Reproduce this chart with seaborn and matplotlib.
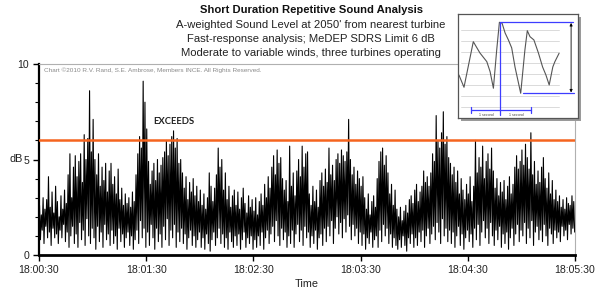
import numpy as np
import pandas as pd
import matplotlib
matplotlib.use("Agg")
import matplotlib.pyplot as plt
import seaborn as sns

# ---------------- data ----------------
title = "Short Duration Repetitive Sound Analysis"
subtitles = ["A-weighted Sound Level at 2050' from nearest turbine",
             "Fast-response analysis; MeDEP SDRS Limit 6 dB",
             "Moderate to variable winds, three turbines operating"]
copyright_txt = "Chart \u00a92010 R.V. Rand, S.E. Ambrose, Members INCE. All Rights Reserved."
tick_seconds = [0, 60, 120, 180, 240, 300]
tick_labels = ["18:00:30", "18:01:30", "18:02:30", "18:03:30", "18:04:30", "18:05:30"]
limit_db = 6

# one peak and one trough per second (dB), 300 seconds
peaks = [
    2.6, 2.1, 3.0, 2.4, 2.9, 4.1, 2.5, 3.3, 2.2, 3.6,
    2.8, 2.0, 3.1, 2.4, 3.4, 2.7, 4.2, 5.3, 3.0, 4.6,
    5.2, 4.1, 4.9, 5.3, 3.8, 6.3, 5.0, 6.1, 8.6, 5.4,
    7.1, 5.0, 4.2, 5.3, 3.6, 4.6, 3.9, 4.8, 3.3, 4.4,
    4.8, 3.7, 4.1, 3.2, 4.5, 2.9, 3.5, 2.6, 3.2, 2.7,
    3.0, 2.5, 3.3, 2.8, 4.2, 5.3, 6.2, 5.6, 9.1, 8.0,
    6.6, 4.9, 3.7, 4.4, 4.8, 3.9, 5.0, 4.3, 4.7, 5.1,
    5.4, 6.0, 5.2, 5.8, 6.2, 6.5, 5.6, 6.1, 4.8, 5.0,
    4.3, 3.5, 4.1, 2.9, 3.8, 3.3, 4.0, 3.1, 3.6, 2.8,
    3.4, 2.6, 3.2, 2.4, 3.0, 4.3, 3.6, 2.8, 3.5, 4.2,
    5.6, 4.6, 5.0, 3.4, 4.3, 2.9, 3.6, 2.5, 3.1, 3.4,
    2.6, 3.3, 2.4, 3.0, 3.5, 2.7, 2.2, 3.1, 2.5, 2.9,
    2.3, 3.0, 2.1, 2.8, 3.2, 2.6, 3.7, 3.0, 4.1, 3.5,
    4.6, 5.2, 4.2, 5.5, 4.8, 5.1, 4.0, 3.4, 3.9, 2.8,
    5.7, 3.6, 4.3, 3.1, 4.4, 5.0, 4.1, 5.7, 4.6, 5.3,
    5.4, 3.2, 2.6, 3.6, 2.8, 3.4, 2.5, 3.9, 4.3, 3.6,
    4.5, 3.8, 5.6, 4.2, 4.7, 3.9, 5.0, 5.3, 4.8, 5.5,
    5.2, 4.9, 5.4, 7.1, 5.0, 4.2, 4.6, 3.7, 4.4, 4.0,
    3.6, 4.1, 3.0, 2.4, 3.2, 2.1, 2.8, 3.1, 2.5, 4.0,
    4.9, 5.4, 5.6, 4.7, 5.2, 4.3, 3.2, 3.7, 2.6, 3.4,
    2.4, 2.0, 2.5, 1.8, 2.3, 2.6, 2.2, 2.9, 3.1, 2.7,
    3.4, 3.7, 2.8, 3.3, 3.6, 4.4, 3.8, 4.1, 3.6, 4.3,
    5.3, 4.9, 7.3, 6.0, 5.6, 6.4, 7.5, 5.8, 6.2, 5.1,
    4.8, 4.2, 4.6, 3.8, 4.4, 3.2, 4.0, 3.4, 2.9, 3.7,
    3.2, 4.1, 2.8, 3.6, 6.0, 4.3, 5.1, 4.6, 5.7, 4.0,
    4.9, 5.3, 4.5, 5.6, 4.4, 3.5, 4.0, 3.1, 3.8, 3.3,
    3.9, 2.9, 3.6, 4.1, 3.2, 3.7, 4.6, 5.2, 4.5, 4.9,
    5.5, 4.7, 5.8, 5.1, 4.5, 6.4, 4.2, 4.9, 3.7, 4.4,
    3.8, 4.6, 5.1, 4.0, 3.5, 4.3, 3.2, 3.9, 2.9, 3.4,
    2.8, 3.1, 2.5, 2.9, 2.4, 3.0, 2.7, 2.6, 3.1, 2.8,
]
troughs = [
    0.8, 1.3, 0.6, 1.5, 0.9, 1.2, 0.5, 1.4, 0.9, 1.1,
    0.6, 1.3, 0.9, 1.6, 0.7, 1.2, 0.4, 1.0, 1.5, 0.6,
    1.1, 0.4, 1.7, 0.8, 1.3, 0.5, 1.9, 1.0, 0.6, 1.4,
    0.9, 0.3, 1.5, 0.7, 1.2, 0.4, 1.6, 0.8, 1.1, 0.5,
    1.3, 0.6, 1.0, 0.3, 1.4, 0.7, 1.1, 0.4, 0.9, 1.2,
    0.5, 1.0, 0.3, 0.8, 1.3, 0.6, 1.8, 0.9, 1.4, 0.4,
    1.2, 0.5, 1.6, 0.9, 0.3, 1.4, 0.7, 1.1, 0.4, 1.5,
    0.8, 1.9, 0.5, 1.3, 0.9, 1.6, 0.4, 1.2, 0.7, 1.4,
    0.6, 1.1, 0.3, 0.9, 1.3, 0.5, 1.0, 0.4, 0.8, 1.2,
    0.4, 0.9, 0.3, 1.1, 0.6, 0.2, 0.8, 1.2, 0.5, 0.9,
    1.4, 0.6, 1.1, 0.4, 0.9, 0.3, 1.2, 0.7, 0.4, 1.0,
    0.5, 1.1, 0.3, 0.8, 1.2, 0.4, 0.9, 0.6, 1.0, 0.3,
    0.8, 0.4, 1.0, 0.5, 1.2, 0.3, 0.9, 1.3, 0.6, 1.1,
    1.5, 0.7, 1.8, 1.0, 0.5, 1.4, 0.8, 1.2, 0.4, 1.0,
    0.6, 1.3, 0.4, 1.1, 1.6, 0.7, 1.3, 0.5, 1.5, 0.9,
    1.2, 0.4, 1.0, 0.6, 1.3, 0.3, 0.9, 1.1, 0.5, 1.4,
    0.7, 1.5, 1.0, 1.8, 0.6, 1.4, 2.0, 1.1, 1.7, 0.9,
    1.9, 1.2, 2.1, 1.5, 0.8, 1.6, 1.0, 1.4, 0.6, 1.2,
    0.5, 1.1, 0.3, 0.9, 0.6, 1.2, 0.4, 0.8, 1.0, 0.4,
    1.3, 0.7, 1.6, 1.0, 1.4, 0.6, 1.1, 0.4, 0.9, 0.5,
    0.3, 0.8, 0.4, 1.0, 0.5, 0.2, 0.9, 0.6, 1.1, 0.4,
    0.9, 0.5, 1.2, 0.7, 1.3, 0.4, 1.0, 1.4, 0.6, 1.1,
    1.5, 0.8, 1.7, 1.2, 0.6, 1.9, 1.0, 1.4, 0.7, 1.3,
    0.6, 1.2, 0.4, 1.0, 1.5, 0.5, 1.1, 0.3, 0.9, 1.3,
    0.7, 1.1, 0.4, 1.4, 0.8, 1.6, 0.5, 1.2, 1.8, 0.9,
    1.4, 0.6, 1.7, 1.0, 0.5, 1.3, 0.8, 1.5, 0.4, 1.1,
    0.6, 1.2, 0.3, 0.9, 1.4, 0.5, 1.1, 1.6, 0.7, 1.3,
    1.0, 1.7, 0.6, 1.4, 0.9, 1.8, 0.5, 1.2, 1.5, 0.8,
    1.3, 0.7, 1.6, 1.0, 0.5, 1.4, 1.1, 0.6, 1.3, 0.9,
    1.2, 0.7, 1.5, 1.0, 1.3, 0.8, 1.6, 1.1, 1.4, 1.2,
]

# inset waveform (seconds, relative level)
inset_t = [0.03, 0.20, 0.51, 0.73, 0.96, 1.07, 1.18, 1.29, 1.38, 1.47, 1.57, 1.68,
           1.79, 1.90, 2.09, 2.23, 2.31, 2.40, 2.53, 2.68, 2.82, 2.93, 3.04, 3.16,
           3.23, 3.37]
inset_v = [3.91, 2.78, 6.96, 5.93, 5.13, 4.21, 2.69, 6.20, 8.74, 8.65, 7.76, 7.12,
           6.39, 4.64, 2.23, 6.20, 7.97, 7.42, 7.12, 5.93, 4.64, 3.91, 2.99, 4.64,
           5.13, 5.90]

# ---------------- build table ----------------
n = len(peaks)
t_vals, db_vals = [], []
for i in range(n):
    t_vals += [i + 0.3, i + 0.8]
    db_vals += [peaks[i], troughs[i]]
df = pd.DataFrame({"t": t_vals, "db": db_vals})
inset_df = pd.DataFrame({"t": inset_t, "v": inset_v})

# ---------------- style ----------------
sns.set_theme(style="white")
plt.rcParams["font.family"] = ["Liberation Sans", "DejaVu Sans"]

fig = plt.figure(figsize=(6.0, 2.92), dpi=100)
W, H = 600, 292
L, R, T, B = 39, 575, 64, 255
ax = fig.add_axes([L / W, 1 - B / H, (R - L) / W, (B - T) / H])

sns.lineplot(data=df, x="t", y="db", ax=ax, color="black", linewidth=0.8,
             estimator=None, sort=False)
ax.axhline(limit_db, color="#f5641e", linewidth=1.8, zorder=3)

ax.set_xlim(0, 300)
ax.set_ylim(0, 10)
ax.set_xticks(tick_seconds)
ax.set_xticklabels(tick_labels)
ax.set_yticks([0, 5, 10])
ax.set_yticks(range(0, 11), minor=True)
ax.tick_params(axis="x", which="major", direction="out", length=4, width=1,
               color="black", labelsize=7.6, labelcolor="#222222", pad=3, bottom=True)
ax.tick_params(axis="y", which="major", direction="out", length=4, width=1,
               color="black", labelsize=7.6, labelcolor="#222222", pad=3, left=True)
ax.tick_params(axis="y", which="minor", direction="out", length=3, width=0.8,
               color="black", left=True)
for s in ["left", "bottom"]:
    ax.spines[s].set_color("black")
ax.spines["left"].set_linewidth(1.6)
ax.spines["bottom"].set_linewidth(2.0)
for s in ["top", "right"]:
    ax.spines[s].set_color("#b0b0b0")
    ax.spines[s].set_linewidth(0.8)
ax.set_xlabel("Time", fontsize=7.8, color="#222222", labelpad=3)
ax.set_ylabel("")
fig.text(10 / W, 1 - 159 / H, "dB", fontsize=7.8, color="#222222", va="center", ha="left")

# texts
fig.text(311 / W, 1 - 10 / H, title, fontsize=8.1, fontweight="bold", ha="center",
         va="center", color="#111111")
for k, s in enumerate(subtitles):
    fig.text(311 / W, 1 - (25 + 14 * k) / H, s, fontsize=8.1, ha="center",
             va="center", color="#222222")
fig.text(44 / W, 1 - 70 / H, copyright_txt, fontsize=4.6, ha="left", va="center",
         color="#8a8a8a")
fig.text(153 / W, 1 - 122 / H, "EXCEEDS", fontsize=6.8, fontweight="bold",
         ha="left", va="center", color="#222222", family=["Lato", "DejaVu Sans"])

# ---------------- inset ----------------
il, ir, it, ib = 458, 578, 14, 118
shadow = fig.add_axes([(il + 3) / W, 1 - (ib + 3) / H, (ir - il) / W, (ib - it) / H])
shadow.set_facecolor("#9a9a9a")
shadow.set_xticks([]); shadow.set_yticks([])
for s in shadow.spines.values():
    s.set_visible(False)
ins = fig.add_axes([il / W, 1 - ib / H, (ir - il) / W, (ib - it) / H])
ins.set_facecolor("white")
ins.set_xlim(0, 4)
ins.set_ylim(-0.04, 9.5)
for g in range(1, 9):
    ins.plot([0.09, 3.37], [g, g], color="#d4d4d4", linewidth=0.6, zorder=1)
sns.lineplot(data=inset_df, x="t", y="v", ax=ins, color="#555555", linewidth=0.8,
             estimator=None, sort=False, zorder=3)
blue = "#3d3dff"
ins.plot([1.4, 1.4], [0.24, 8.75], color=blue, linewidth=0.9, zorder=4)
ins.plot([1.4, 3.83], [8.75, 8.75], color=blue, linewidth=0.9, zorder=4)
ins.plot([2.17, 3.87], [2.23, 2.23], color=blue, linewidth=0.9, zorder=4)
ins.annotate("", xy=(3.77, 2.3), xytext=(3.77, 8.68),
             arrowprops=dict(arrowstyle="<|-|>", color="black", lw=0.6,
                             mutation_scale=4, shrinkA=0, shrinkB=0), zorder=5)
ins.plot([0.43, 2.43], [0.7, 0.7], color=blue, linewidth=0.9, zorder=4)
for xx in [0.43, 2.43]:
    ins.plot([xx, xx], [0.45, 0.95], color=blue, linewidth=0.9, zorder=4)
for xx in [0.93, 1.93]:
    ins.text(xx, 0.22, "1 second", fontsize=2.6, ha="center", va="center", color="#444444")
ins.set_xticks([]); ins.set_yticks([])
ins.set_xlabel(""); ins.set_ylabel("")
for s in ins.spines.values():
    s.set_color("#555555")
    s.set_linewidth(0.9)

fig.savefig("out.png", dpi=100)
